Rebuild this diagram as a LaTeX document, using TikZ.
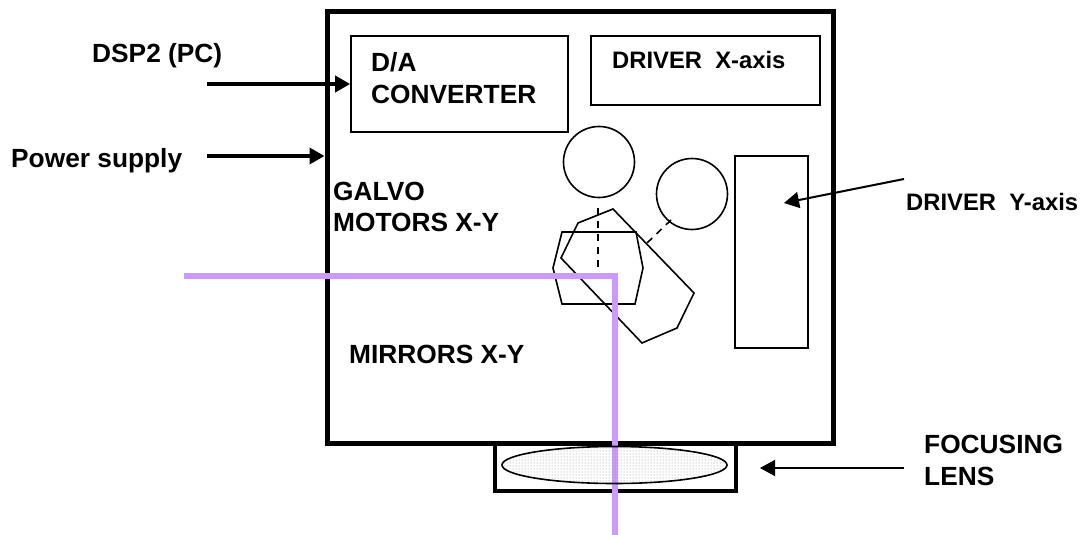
\documentclass[tikz,border=0pt]{standalone}
\usepackage{fontspec}
\setmainfont{Liberation Sans}
\usetikzlibrary{arrows.meta,patterns,shapes.geometric}
\definecolor{beam}{HTML}{CC99FF}
\tikzset{
  x=1pt,y=-1pt,
  lbl/.style={font=\fontsize{26.3}{30}\selectfont\bfseries,inner sep=0pt,anchor=base west,align=left},
  lblsm/.style={font=\fontsize{23.8}{28}\selectfont\bfseries,inner sep=0pt,anchor=base west},
  heavy/.style={draw=black,line width=5pt},
  heavyb/.style={draw=black,line width=4.5pt},
  thin box/.style={draw=black,line width=1.6pt},
  conn/.style={draw=black,line width=3.5pt,-{Triangle[length=15pt,width=16pt]}},
  connthin/.style={draw=black,line width=2pt,-{Triangle[length=15pt,width=16pt]}},
  beamline/.style={draw=beam,line width=5.5pt},
  dash line/.style={draw=black,line width=1.6pt,dash pattern=on 7pt off 6pt},
}
\begin{document}
\begin{tikzpicture}
\useasboundingbox (0,0) rectangle (1084,535);
\fill[white] (0,0) rectangle (1084,535);
% housing
\node[heavy,minimum width=506pt,minimum height=431pt,inner sep=0pt] (main) at (580,227.5) {};
\node[heavyb,minimum width=241pt,minimum height=48pt,inner sep=0pt] (lensbox) at (615.5,467) {};
% shapes under the beam
\node[draw=black,line width=1.6pt,circle,minimum size=71pt,inner sep=0pt] (c1) at (599,162) {};
\node[draw=black,line width=1.6pt,circle,minimum size=71pt,inner sep=0pt] (c2) at (692,194) {};
\draw[thin box] (562,232) -- (636,232) -- (643,268) -- (635,304) -- (562,304) -- (553,268) -- cycle;
\draw[thin box] (613,209) -- (694,293) -- (677,328) -- (642,343) -- (561,258) -- (578,223) -- cycle;
\draw[dash line] (598,208) -- (598,273);
\draw[dash line] (671,220) -- (647,243);
% beam
\coordinate (bs) at (184,276);
\coordinate (bc) at (615,276);
\coordinate (be) at (615,535);
\draw[beamline,line join=miter] (bs) -- (bc) -- (be);
\node[draw=black,line width=1.6pt,ellipse,minimum width=225pt,minimum height=37pt,inner sep=0pt,pattern=dots,pattern color=black!45] (lens) at (614.5,465) {};
% boxes
\node[thin box,minimum width=217pt,minimum height=96pt,inner sep=0pt] (da) at (459.5,84) {};
\node[thin box,minimum width=229pt,minimum height=69pt,inner sep=0pt] (dx) at (705.5,70.5) {};
\node[thin box,minimum width=73pt,minimum height=192pt,inner sep=0pt] (dy) at (771.5,252) {};
% free ends
\coordinate (a1) at (207,84);
\coordinate (a2) at (207,156);
\coordinate (a3) at (904,179);
\coordinate (a4) at (904,468);
\coordinate (h3) at (784,203);
\coordinate (h4) at (760,468);
\draw[conn] (a1) -- (da.west |- a1);
\draw[conn] (a2) -- (main.west |- a2);
\draw[connthin] (a3) -- (h3);
\draw[connthin] (a4) -- (h4);
% labels
\node[lbl] (t1) at (92,63) {DSP2 (PC)};
\node[lbl] (t2) at (11,167) {Power supply};
\node[lbl] (t3) at (371,71) {D/A};
\node[lbl] (t4) at (371,103) {CONVERTER};
\node[lblsm] (t5) at (612,69) {DRIVER\ \ X-axis};
\node[lbl] (t6) at (333,200) {GALVO};
\node[lbl] (t7) at (333,231) {MOTORS X-Y};
\node[lbl] (t8) at (349,363) {MIRRORS X-Y};
\node[lblsm] (t9) at (906,210) {DRIVER\ \ Y-axis};
\node[lbl] (t10) at (924,453) {FOCUSING};
\node[lbl] (t11) at (924,485) {LENS};
\end{tikzpicture}
\end{document}
